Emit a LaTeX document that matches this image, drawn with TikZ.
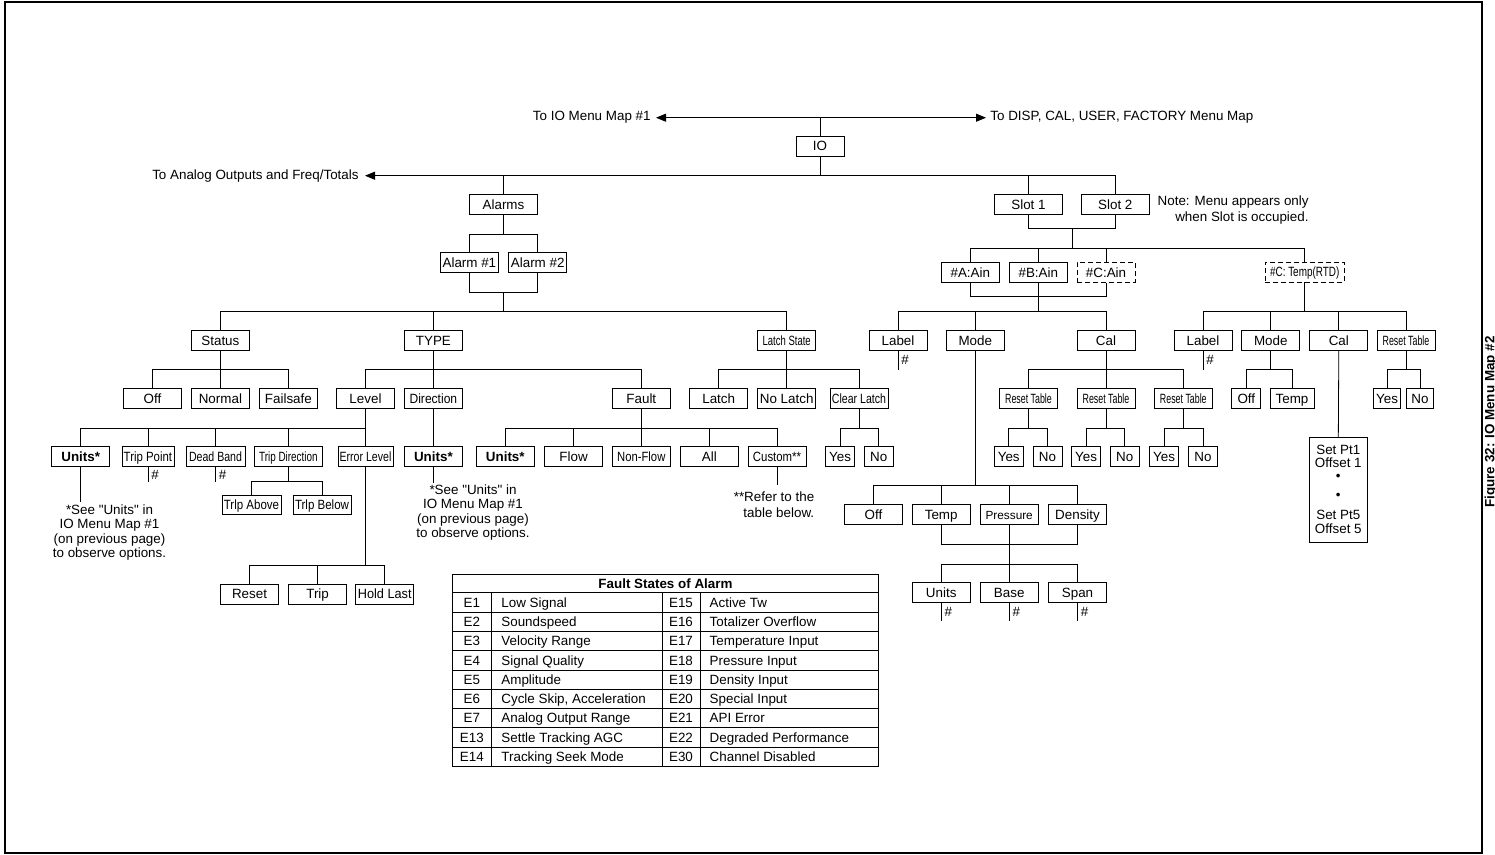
\documentclass[tikz,border=0pt]{standalone}
\usepackage{fontspec}
\setmainfont{Liberation Sans}
\usepackage{graphicx}
\usetikzlibrary{arrows.meta,calc}
\newcommand{\basefont}{\fontsize{13.4}{16}\selectfont}
\newcommand{\nrw}[2][0.78]{\scalebox{#1}[1]{#2}}
\newcommand{\qt}{\textquotedbl}
\tikzset{
  box/.style={draw, minimum width=58pt, minimum height=20pt, inner sep=1pt, text height=9.6pt, text depth=0pt},
  dbox/.style={box, dash pattern=on 5pt off 3pt},
  yn/.style={box, minimum width=29pt},
  bbox/.style={box, font=\basefont\bfseries},
  note/.style={align=center, inner xsep=0pt, font=\fontsize{13.4}{14.5}\selectfont},
  hash/.style={right, inner sep=3pt},
  lbl/.style={inner xsep=5pt, inner ysep=1pt},
  cell/.style={inner sep=0pt, text height=9.6pt, text depth=0pt},
  tip/.style={-{Triangle[length=10pt,width=8pt]}},
}

\begin{document}
\begin{tikzpicture}[x=1pt, y=-1pt, line width=0.8pt, font=\basefont]
\useasboundingbox (0,0) rectangle (1495,854);
\draw[line width=2pt] (5,1.5) rectangle (1482,853);
\node[rotate=90, font=\basefont\bfseries, inner sep=0pt] (figcap) at (1491,422) {Figure 32: IO Menu Map \#2};

% top of the map
\node[box, minimum width=48pt] (io) at (820,146) {IO};
\node[lbl, anchor=east] (toio) at (656,117.7) {To IO Menu Map \#1};
\node[lbl, anchor=west, inner xsep=4pt] (todisp) at (986,117.7) {To DISP, CAL, USER, FACTORY Menu Map};
\node[lbl, anchor=east, inner xsep=6pt] (toanalog) at (365,175.7) {To Analog Outputs and Freq/Totals};
\draw[{Triangle[length=10pt,width=8pt]}-{Triangle[length=10pt,width=8pt]}] (toio.east) -- (todisp.west);
\draw (io.north) -- (io.north |- toio.east);

\node[box, minimum width=68pt] (alarms) at (503.5,204.5) {Alarms};
\node[box, minimum width=68pt] (slot1) at (1028.5,204.7) {Slot 1};
\node[box, minimum width=68pt] (slot2) at (1115.3,204.7) {Slot 2};
\node[align=right, anchor=north east, inner sep=0pt, font=\fontsize{13.4}{16.7}\selectfont] (slotnote) at (1309,195) {Note: Menu appears only\\when Slot is occupied.};
\draw[tip] (slot2.north) |- (toanalog.east);
\draw (io.south) -- (io.south |- toanalog.east);
\draw (alarms.north) -- (alarms.north |- toanalog.east);
\draw (slot1.north) -- (slot1.north |- toanalog.east);

% alarms side
\node[box] (alarm1) at (469.4,262.5) {Alarm \#1};
\node[box] (alarm2) at (537.7,262.5) {Alarm \#2};
\node[box] (status) at (220.4,340.2) {Status};
\node[box] (type) at (433.4,340.2) {TYPE};
\node[box] (latchstate) at (786.7,340.2) {\nrw[0.71]{Latch State}};

\node[box] (off) at (152.5,398.3) {Off};
\node[box] (normal) at (220.4,398.3) {Normal};
\node[box] (failsafe) at (288.4,398.3) {Failsafe};
\node[box] (level) at (365.5,398.3) {Level};
\node[box] (direction) at (433.4,398.3) {\nrw[0.9]{Direction}};
\node[box] (fault) at (641.3,398.3) {Fault};
\node[box] (latch) at (718.7,398.3) {Latch};
\node[box] (nolatch) at (786.7,398.3) {No Latch};
\node[box] (clearlatch) at (859,398.3) {\nrw[0.79]{Clear Latch}};

\node[bbox] (unitsa) at (80.7,456.7) {Units*};
\node[box, minimum width=52pt] (trippoint) at (147.9,456.7) {\nrw[0.85]{Trip Point}};
\node[box, minimum width=59pt] (deadband) at (215.5,456.7) {\nrw[0.79]{Dead Band}};
\node[box, minimum width=68pt] (tripdir) at (288.4,456.7) {\nrw[0.74]{Trip Direction}};
\node[box, minimum width=55pt] (errorlevel) at (365.5,456.7) {\nrw[0.79]{Error Level}};
\node[bbox] (unitsb) at (433.4,456.7) {Units*};
\node[bbox] (unitsc) at (505.3,456.7) {Units*};
\node[box] (flow) at (573.6,456.7) {Flow};
\node[box] (nonflow) at (641.3,456.7) {\nrw[0.84]{Non-Flow}};
\node[box] (all) at (709.3,456.7) {All};
\node[box] (custom) at (777,456.7) {\nrw[0.85]{Custom**}};
\node[yn] (yesl) at (840,456.7) {Yes};
\node[yn] (nol) at (878.7,456.7) {No};

\node[box, minimum width=59pt, minimum height=19pt] (tripabove) at (251.5,505) {\nrw[0.86]{Trlp Above}};
\node[box, minimum height=19pt] (tripbelow) at (322,505) {\nrw[0.86]{Trlp Below}};
\node[box] (reset) at (249.5,594) {Reset};
\node[box] (trip) at (317.6,594) {Trip};
\node[box] (holdlast) at (384.7,594) {\nrw[0.95]{Hold Last}};

\node[note, anchor=north, inner ysep=2.5pt] (notea) at (109.5,501.5) {*See \qt Units\qt{} in\\IO Menu Map \#1\\(on previous page)\\to observe options.};
\node[note, anchor=north, inner ysep=1.7pt] (noteb) at (473,482.5) {*See \qt Units\qt{} in\\IO Menu Map \#1\\(on previous page)\\to observe options.};
\node[note, align=right, anchor=north, inner ysep=5.9pt, font=\fontsize{13.4}{16.7}\selectfont] (notec) at (774,485) {**Refer to the\\table below.};

% slot side
\node[box] (aina) at (970.3,272.3) {\#A:Ain};
\node[box] (ainb) at (1038.3,272.3) {\#B:Ain};
\node[dbox] (ainc) at (1106,272.3) {\#C:Ain};
\node[dbox, minimum width=79pt] (temprtd) at (1304.7,272) {\nrw[0.74]{\#C: Temp(RTD)}};

\node[box] (label) at (898,340.2) {Label};
\node[box] (mode) at (975.3,340.2) {Mode};
\node[box] (cal) at (1106,340.2) {Cal};
\node[box] (labelr) at (1203,340.2) {Label};
\node[box] (moder) at (1270.8,340.2) {Mode};
\node[box] (calr) at (1338.8,340.2) {Cal};
\node[box] (resetr) at (1406,340.2) {\nrw[0.66]{Reset Table}};

\node[box] (rta) at (1028.5,398.3) {\nrw[0.66]{Reset Table}};
\node[box] (rtb) at (1106,398.3) {\nrw[0.66]{Reset Table}};
\node[box] (rtc) at (1183.3,398.3) {\nrw[0.66]{Reset Table}};
\node[yn] (offr) at (1246.3,398.3) {Off};
\node[box, minimum width=44pt] (tempr) at (1292,398.3) {Temp};
\node[yn, minimum width=27pt] (yesr) at (1387,398.3) {Yes};
\node[yn, minimum width=27pt] (nor) at (1420,398.3) {No};

\node[yn] (yesa) at (1008.7,456.7) {Yes};
\node[yn] (noa) at (1047.5,456.7) {No};
\node[yn] (yesb) at (1086,456.7) {Yes};
\node[yn] (nob) at (1124.7,456.7) {No};
\node[yn] (yesc) at (1164,456.7) {Yes};
\node[yn] (noc) at (1203,456.7) {No};

\node[box] (offm) at (873.5,514.7) {Off};
\node[box] (tempm) at (941.2,514.7) {Temp};
\node[box] (pressure) at (1009.2,514.7) {\scalebox{0.88}{Pressure}};
\node[box] (density) at (1077.5,514.7) {Density};
\node[box] (unitsd) at (941.2,592.7) {Units};
\node[box] (base) at (1009.2,592.7) {Base};
\node[box] (span) at (1077.5,592.7) {Span};

\node[draw, minimum width=58.7pt, minimum height=105pt] (setpt) at (1338.3,490.2) {};
\node[cell] (sp1) at (1338.3,450) {Set Pt1};
\node[cell] (os1) at (1338.3,462.7) {Offset 1};
\node[cell, text height=5pt] (dot1) at (1338.3,478) {\textbullet};
\node[cell, text height=5pt] (dot2) at (1338.3,497) {\textbullet};
\node[cell] (sp5) at (1338.3,515) {Set Pt5};
\node[cell] (os5) at (1338.3,529) {Offset 5};

% connectors
\foreach \c in {alarm1,alarm2} \draw (alarms.south) -- ++(0,19) -| (\c.north);
\draw (alarm1.south) -- ++(0,19.4) -| (alarm2.south);
\coordinate (ajoin) at ($(alarms.south |- alarm1.south)+(0,19.4)$);
\foreach \c in {status,type,latchstate} \draw (ajoin) -- ++(0,19.3) -| (\c.north);

\draw (slot1.south) -- ++(0,13.6) -| (slot2.south);
\coordinate (sjoin) at ($(slot1.south)!0.5!(slot2.south)+(0,13.6)$);
\foreach \c in {aina,ainb,ainc,temprtd} \draw (sjoin) -- ++(0,19.7) -| (\c.north);
\draw (aina.south) -- ++(0,14) -| (ainc.south);
\foreach \c in {label,mode,cal} \draw (ainb.south) -- ++(0,28.7) -| (\c.north);
\foreach \c in {labelr,moder,calr,resetr} \draw (temprtd.south) -- ++(0,29) -| (\c.north);

\foreach \p/\c in {status/off, status/normal, status/failsafe, type/level, type/direction, type/fault,
  latchstate/latch, latchstate/nolatch, latchstate/clearlatch, cal/rta, cal/rtb, cal/rtc,
  moder/offr, moder/tempr, resetr/yesr, resetr/nor}
  \draw (\p.south) -- ++(0,19.1) -| (\c.north);
\foreach \n in {label,labelr} \draw (\n.south) -- ++(0,19) node[midway,hash] {\#};
\draw (calr.south) -- (setpt.north);

\foreach \p/\c in {level/unitsa, level/trippoint, level/deadband, level/tripdir, level/errorlevel,
  direction/unitsb, fault/unitsc, fault/flow, fault/nonflow, fault/all, fault/custom,
  clearlatch/yesl, clearlatch/nol, rta/yesa, rta/noa, rtb/yesb, rtb/nob, rtc/yesc, rtc/noc}
  \draw (\p.south) -- ++(0,19.2) -| (\c.north);
\foreach \n in {trippoint,deadband} \draw (\n.south) -- ++(0,15) node[midway,hash] {\#};
\foreach \c in {tripabove,tripbelow} \draw (tripdir.south) -- ++(0,14.3) -| (\c.north);
\foreach \c in {reset,trip,holdlast} \draw (errorlevel.south) -- ++(0,98.3) -| (\c.north);
\draw (unitsa.south) -- (unitsa.south |- notea.north);
\draw (unitsb.south) -- (unitsb.south |- noteb.north);
\draw (custom.south) -- (custom.south |- notec.north);

\foreach \c in {offm,tempm,pressure,density} \draw (mode.south) -- ++(0,134.8) -| (\c.north);
\draw (tempm.south) -- ++(0,19) -| (density.south);
\foreach \c in {unitsd,base,span} \draw (pressure.south) -- ++(0,39) -| (\c.north);
\foreach \n in {unitsd,base,span} \draw (\n.south) -- ++(0,18.3) node[midway,hash] {\#};

% fault table
\draw (452.7,574) rectangle (878.3,766.4);
\foreach \i in {0,...,8} \draw (452.7,592.7+19.3*\i) -- (878.3,592.7+19.3*\i);
\foreach \x in {491,662.3,700} \draw (\x,592.7) -- (\x,766.4);
\node[cell, font=\basefont\bfseries] (fshead) at (665.5,583.35) {Fault States of Alarm};
\foreach \i/\ca/\ta/\cb/\tb in {1/E1/Low Signal/E15/Active Tw, 2/E2/Soundspeed/E16/Totalizer Overflow,
  3/E3/Velocity Range/E17/Temperature Input, 4/E4/Signal Quality/E18/Pressure Input,
  5/E5/Amplitude/E19/Density Input, 6/E6/{Cycle Skip, Acceleration}/E20/Special Input,
  7/E7/Analog Output Range/E21/API Error, 8/E13/Settle Tracking AGC/E22/Degraded Performance,
  9/E14/Tracking Seek Mode/E30/Channel Disabled} {
  \pgfmathsetmacro{\yy}{592.7+19.3*(\i-0.5)}
  \node[cell] (ca\i) at (471.8,\yy) {\ca};
  \node[cell, anchor=west] (ta\i) at (501,\yy) {\ta};
  \node[cell] (cb\i) at (681,\yy) {\cb};
  \node[cell, anchor=west] (tb\i) at (709.3,\yy) {\tb};
}
\end{tikzpicture}
\end{document}
